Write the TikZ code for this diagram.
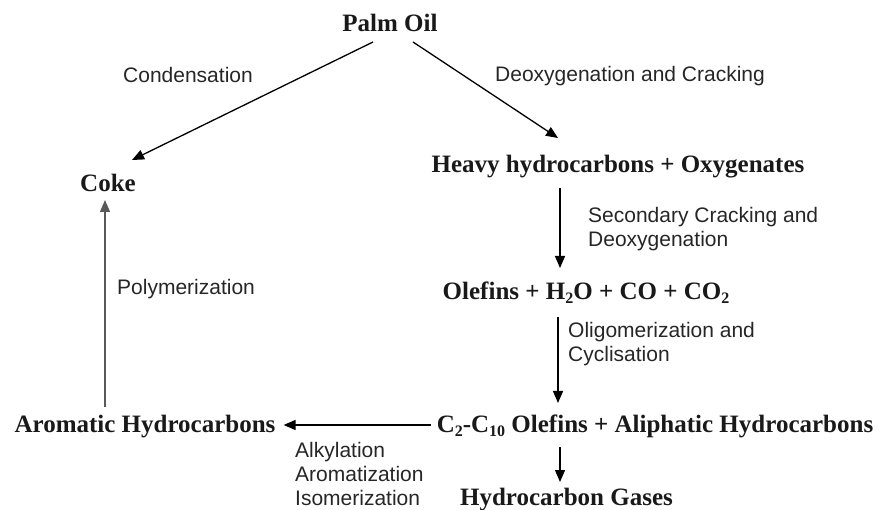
\documentclass[tikz,border=0pt]{standalone}
\usepackage{fontspec}
\setmainfont{Liberation Serif}
\setsansfont{Liberation Sans}
\usetikzlibrary{arrows.meta,calc}
\newcommand{\lowidx}[1]{\raisebox{-0.3ex}{\fontsize{16}{16}\selectfont #1}}
\newcommand{\multilbl}[1]{\begin{tabular}[t]{@{}l@{}}#1\end{tabular}}
\begin{document}
\begin{tikzpicture}[x=1pt,y=-1pt,
 chem/.style={font=\fontsize{25}{28}\selectfont\bfseries, inner sep=0pt, anchor=base, text=black!90},
 lbl/.style={font=\sffamily\fontsize{21}{24}\selectfont, inner sep=0pt, anchor=base west, text=black!85},
 arr/.style={line width=1.3pt, -{Triangle[length=12pt,width=10pt]}}]
\useasboundingbox (0,0) rectangle (881,510);

\node[chem] (palm) at (390,32) {Palm Oil};
\node[chem] (coke) at (108,192) {Coke};
\node[chem] (heavy) at (618,173) {Heavy hydrocarbons + Oxygenates};
\node[chem] (olef) at (586,300) {Olefins + H\lowidx{2}O + CO + CO\lowidx{2}};
\node[chem] (c2) at (655,433) {C\lowidx{2}-C\lowidx{10} Olefins + Aliphatic Hydrocarbons};
\node[chem] (gases) at (566.5,505) {Hydrocarbon Gases};
\node[chem] (arom) at (145,432) {Aromatic Hydrocarbons};

\node[lbl] (lcond) at (123,83) {Condensation};
\node[lbl] (ldeox) at (495,82) {Deoxygenation and Cracking};
\node[lbl] (lsec) at (588,223) {\multilbl{Secondary Cracking and\\Deoxygenation}};
\node[lbl] (loli) at (568,338) {\multilbl{Oligomerization and\\Cyclisation}};
\node[lbl] (lpoly) at (117,295) {Polymerization};
\node[lbl] (lalk) at (295,457) {\multilbl{Alkylation\\Aromatization\\Isomerization}};

\draw[arr] ($(palm.base)+(-17,10)$) -- ($(coke.base)+(24,-32)$);
\draw[arr] ($(palm.base)+(23,10)$) -- ($(heavy.base)+(-60,-35)$);
\draw[arr] ($(heavy.base)+(-58,15)$) -- ($(olef.base)+(-26,-32)$);
\draw[arr] ($(olef.base)+(-28,17)$) -- ($(c2.base)+(-97,-30)$);
\draw[arr] ($(c2.base)+(-95,14)$) -- ($(gases.base)+(-6.5,-23)$);
\draw[arr] ($(c2.base west)+(-6,-8)$) -- ($(arom.base east)+(8,-7)$);
\draw[arr, draw=black!65, fill=black!80] ($(arom.base)+(-40,-25)$) -- ($(coke.base)+(-3,8)$);
\end{tikzpicture}
\end{document}
